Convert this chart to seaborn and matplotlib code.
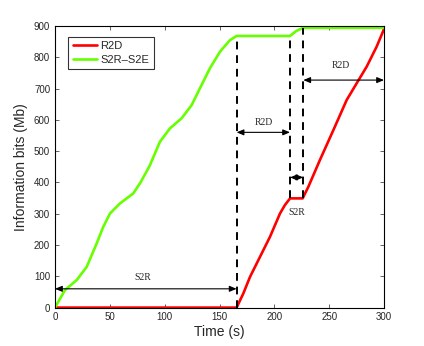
import numpy as np
import pandas as pd
import matplotlib
matplotlib.use('Agg')
import matplotlib.pyplot as plt
import seaborn as sns

# values
green_t = [0, 9.1, 19.8, 28.9, 38, 44, 50.2, 59.3, 71.4, 78, 86.3, 95.7, 104.9, 115.5,
           124.6, 132.2, 141.3, 150.5, 159.6, 165.6, 214.3, 220, 226.4, 300]
green_v = [0, 56, 88, 130, 205, 258, 301, 333, 365, 400, 453, 530, 573, 605,
           647, 701, 765, 818, 855, 868, 868, 884, 894, 894]
red_t = [0, 165.6, 171.7, 177.8, 186.9, 196, 205.2, 209.7, 214.3, 225.8, 231, 241.6,
         253.8, 265.9, 275.1, 284.2, 293.3, 300]
red_v = [0, 0, 45, 98, 162, 226, 301, 328, 349, 349, 386, 472,
         567, 663, 717, 770, 834, 890]

# phase boundaries (s) and dashed line extents (Mb)
vlines = [(165.6, 0, 868), (214.3, 349, 868), (226.4, 349, 894)]
arrows = [  # (x0, x1, y, label, label_x, label_y)
    (0, 165.6, 60, 'S2R', 80, 97),
    (165.6, 214.3, 560, 'R2D', 190, 592),
    (226.4, 300, 727, 'R2D', 261, 773),
    (214.3, 226.4, 416, 'S2R', 220, 304),
]

df = pd.concat([
    pd.DataFrame({'t': red_t, 'v': red_v, 's': 'R2D'}),
    pd.DataFrame({'t': green_t, 'v': green_v, 's': 'S2R\u2013S2E'}),
])

sns.set_style('ticks')
plt.rcParams['font.family'] = ['Liberation Sans', 'DejaVu Sans']

fig = plt.figure(figsize=(4.24, 3.46), dpi=100)
ax = fig.add_axes([0.1297, 0.111, 0.776, 0.814])

sns.lineplot(data=df, x='t', y='v', hue='s', palette=['#ff0000', '#66ff00'],
             linewidth=1.9, ax=ax, sort=False, estimator=None)

for x, y0, y1 in vlines:
    ax.plot([x, x], [y0, y1], color='black', lw=1.4, ls=(0, (4, 3)), zorder=3)

for x0, x1, y, lab, lx, ly in arrows:
    ax.annotate('', xy=(x1, y), xytext=(x0, y),
                arrowprops=dict(arrowstyle='<|-|>,head_length=0.6,head_width=0.25',
                                color='black', lw=0.8, shrinkA=0, shrinkB=0,
                                mutation_scale=7))
    ax.text(lx, ly, lab, ha='center', va='center', fontsize=7,
            family=['Liberation Serif', 'DejaVu Serif'])

ax.set_xlim(0, 300)
ax.set_ylim(0, 900)
ax.set_xticks(np.arange(0, 301, 50))
ax.set_yticks(np.arange(0, 901, 100))
ax.tick_params(direction='in', top=True, right=True, labelsize=7, length=3, width=0.5)
for sp in ax.spines.values():
    sp.set_linewidth(0.8)
    sp.set_color('black')
ax.set_xlabel('Time (s)', fontsize=10, labelpad=2)
ax.set_ylabel('Information bits (Mb)', fontsize=10, labelpad=4)

leg = ax.legend(loc='upper left', bbox_to_anchor=(0.04, 0.961), borderaxespad=0,
                fontsize=8, frameon=True, fancybox=False, edgecolor='black',
                handlelength=2.2, handletextpad=0.3, borderpad=0.4, labelspacing=0.3)
leg.get_frame().set_linewidth(0.8)

fig.savefig('out.png', dpi=100)
